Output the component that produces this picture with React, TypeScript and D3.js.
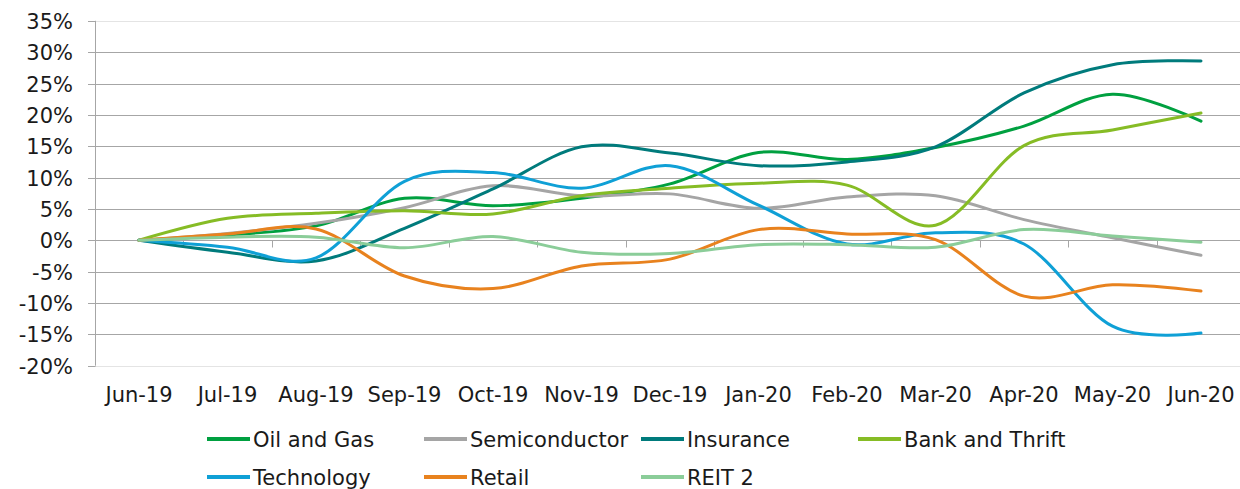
import React from "react";
import * as d3 from "d3";

const months = ["Jun-19","Jul-19","Aug-19","Sep-19","Oct-19","Nov-19","Dec-19","Jan-20","Feb-20","Mar-20","Apr-20","May-20","Jun-20"];
const yTicks = [35, 30, 25, 20, 15, 10, 5, 0, -5, -10, -15, -20];

const oilAndGas = [0, 0.85, 2.3, 6.7, 5.5, 6.7, 9.0, 14.0, 12.9, 14.8, 18.2, 23.3, 19.0];
const semiconductor = [0, 1.1, 2.7, 5.2, 8.7, 7.1, 7.4, 5.1, 6.9, 7.1, 3.3, 0.4, -2.4];
const insurance = [0, -1.9, -3.3, 1.9, 8.2, 14.9, 13.9, 11.9, 12.5, 14.9, 23.5, 28.0, 28.6];
const bankAndThrift = [0, 3.5, 4.3, 4.7, 4.2, 7.1, 8.3, 9.1, 8.8, 2.4, 15.1, 17.6, 20.3];
const technology = [0, -1.1, -2.8, 9.4, 10.8, 8.3, 11.9, 5.6, -0.6, 1.2, -0.6, -13.7, -14.8];
const retail = [0, 1.0, 1.8, -5.7, -7.7, -4.1, -3.0, 1.7, 1.0, 0.1, -8.9, -7.1, -8.1];
const reit2 = [0, 0.5, 0.5, -1.2, 0.6, -1.9, -2.1, -0.7, -0.7, -1.1, 1.7, 0.7, -0.3];

const seriesNames = ["Oil and Gas", "Semiconductor", "Insurance", "Bank and Thrift", "Technology", "Retail", "REIT 2"];
const seriesValues = [oilAndGas, semiconductor, insurance, bankAndThrift, technology, retail, reit2];
const seriesColors = ["#00A040", "#A5A5A5", "#007B7C", "#86BC25", "#0FA0D6", "#E8821E", "#8BCD99"];

const W = 1240, H = 489;
const FONT = "DejaVu Sans";

export default function App() {
  const x = d3.scalePoint<string>().domain(months).range([139, 1201]);
  const step = x.step();
  const plotLeft = 139 - step / 2;
  const plotRight = 1201 + step / 2;
  const y = d3.scaleLinear().domain([-20, 35]).range([365.7, 20.8]);

  const line = d3.line<number>()
    .x((_, i) => x(months[i]) as number)
    .y((d) => y(d))
    .curve(d3.curveCatmullRom.alpha(0));

  const snap = (v: number) => Math.round(v) + 0.5;

  const boundaries = d3.range(1, months.length + 1).map((i) => plotLeft + i * step).filter((b) => b < W);

  const legendCols = [207, 424, 641, 858];
  const legendRows = [439, 477];

  return (
    <svg width={W} height={H} style={{ position: "absolute", left: 0, top: 0, background: "#fff" }}
      fontFamily={FONT}>
      {yTicks.map((t) => (
        <line key={"g" + t} x1={plotLeft} x2={Math.min(plotRight, W)} y1={snap(y(t))} y2={snap(y(t))}
          stroke={t === 35 || t === -20 ? "#e4e4e4" : "#a6a6a6"} strokeWidth={1} />
      ))}
      <line x1={snap(plotLeft)} x2={snap(plotLeft)} y1={y(35)} y2={y(-20)} stroke="#a6a6a6" strokeWidth={1} />
      {yTicks.map((t) => (
        <line key={"yt" + t} x1={88} x2={snap(plotLeft)} y1={snap(y(t))} y2={snap(y(t))} stroke="#a6a6a6" />
      ))}
      {yTicks.map((t) => (
        <text key={"yl" + t} x={73} y={y(t) + 8} textAnchor="end" fontSize={21} fill="#1a1a1a">
          {t + "%"}
        </text>
      ))}
      {boundaries.map((b, i) => (
        <line key={"xt" + i} x1={snap(b)} x2={snap(b)} y1={snap(y(0))} y2={snap(y(0)) + 7} stroke="#a6a6a6" />
      ))}
      {months.map((m) => (
        <text key={m} x={x(m)} y={401.5} textAnchor="middle" fontSize={21} fill="#1a1a1a">{m}</text>
      ))}
      {seriesValues.map((vals, si) => (
        <path key={seriesNames[si]} d={line(vals) || ""} fill="none" stroke={seriesColors[si]}
          strokeWidth={3} strokeLinejoin="round" strokeLinecap="round" />
      ))}
      {seriesNames.map((name, si) => {
        const cx = legendCols[si % 4];
        const cy = legendRows[Math.floor(si / 4)];
        return (
          <g key={"lg" + name}>
            <line x1={cx} x2={cx + 43} y1={cy} y2={cy} stroke={seriesColors[si]} strokeWidth={4} />
            <text x={cx + 46} y={cy + 8.3} fontSize={21} fill="#1a1a1a">{name}</text>
          </g>
        );
      })}
    </svg>
  );
}
